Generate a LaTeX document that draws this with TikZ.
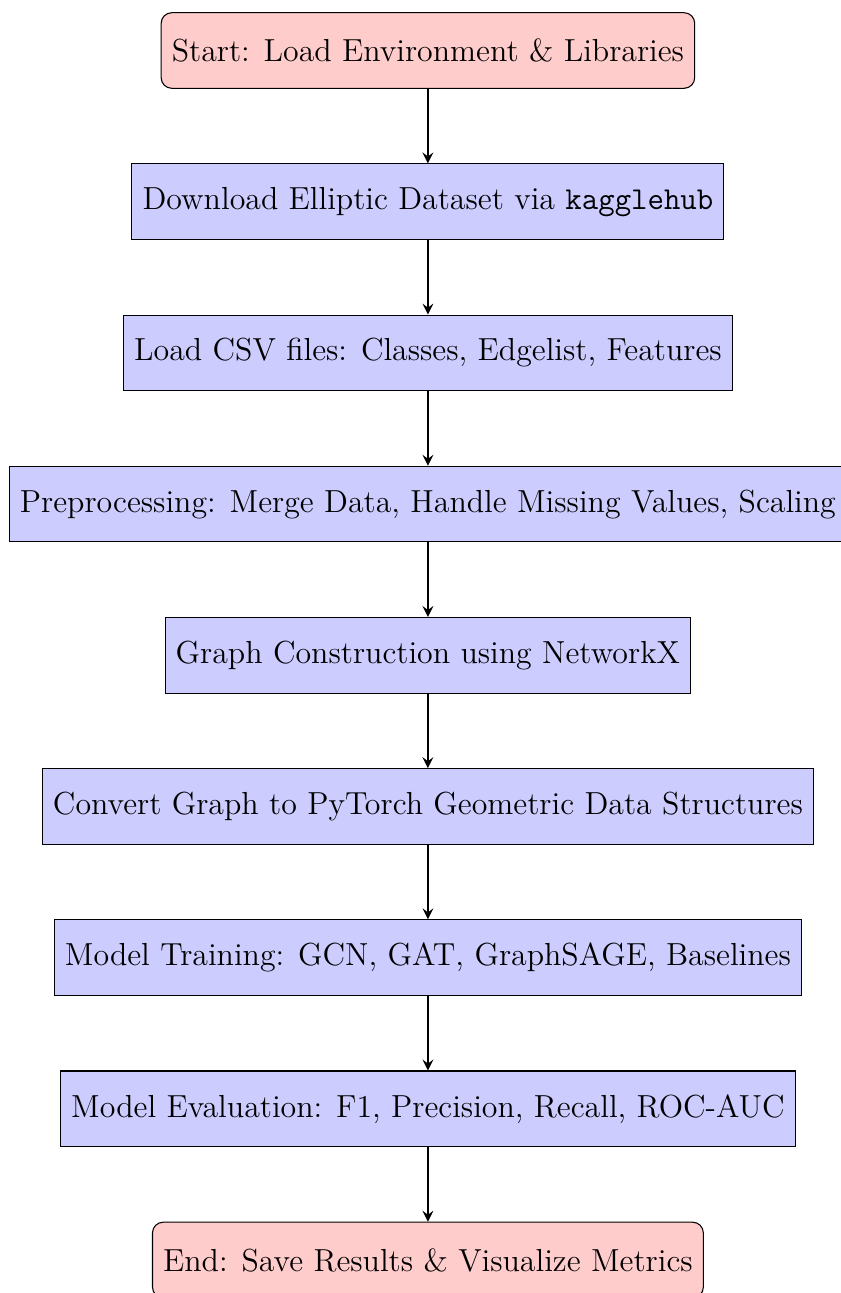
\documentclass[tikz,border=0pt,12pt]{standalone}
\usepackage{tikz}
\usetikzlibrary{positioning}
\tikzset{>=stealth}
\tikzset{
    startstop/.style={rectangle,rounded corners,minimum height=1cm,draw=black,fill=red!20},
    process/.style={rectangle,minimum height=1cm,draw=black,fill=blue!20},
    arrow/.style={thick,->}
}

\begin{document}
\begin{tikzpicture}[node distance=0.986cm]
            \useasboundingbox (-5.661,0.668) rectangle (5.463,-16.437);
            \node[startstop] (start) at (0,0) {Start: Load Environment \& Libraries};
            \node[process, below=of start] (download) {Download Elliptic Dataset via \texttt{kagglehub}};
            \node[process, below=of download] (loadcsv) {Load CSV files: Classes, Edgelist, Features};
            \node[process, below=of loadcsv] (preproc) {Preprocessing: Merge Data, Handle Missing Values, Scaling};
            \node[process, below=of preproc] (graph) {Graph Construction using NetworkX};
            \node[process, below=of graph] (convert) {Convert Graph to PyTorch Geometric Data Structures};
            \node[process, below=of convert] (train) {Model Training: GCN, GAT, GraphSAGE, Baselines};
            \node[process, below=of train] (eval) {Model Evaluation: F1, Precision, Recall, ROC-AUC};
            \node[startstop, below=of eval] (stop) {End: Save Results \& Visualize Metrics};
            \draw[arrow] (start) -- (download);
            \draw[arrow] (download) -- (loadcsv);
            \draw[arrow] (loadcsv) -- (preproc);
            \draw[arrow] (preproc) -- (graph);
            \draw[arrow] (graph) -- (convert);
            \draw[arrow] (convert) -- (train);
            \draw[arrow] (train) -- (eval);
            \draw[arrow] (eval) -- (stop);
        \end{tikzpicture}
\end{document}
